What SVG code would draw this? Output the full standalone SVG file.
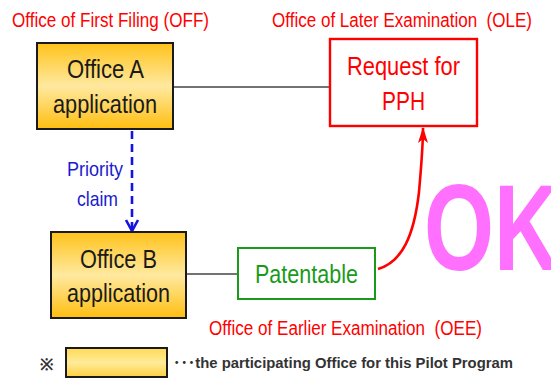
<svg xmlns="http://www.w3.org/2000/svg" width="551" height="379" viewBox="0 0 551 379">
<style>
text{font-family:"Liberation Sans",Arial,sans-serif;}
.ttl{font-size:20px;fill:#ff0000;white-space:pre;}
.box{font-size:26px;fill:#1a1a1a;text-anchor:start;}
.ybox{fill:url(#yg);stroke:#1a1a1a;stroke-width:2;}
.conn{stroke:#444;stroke-width:1.6;fill:none;}
</style>
<defs>
<linearGradient id="yg" x1="0" y1="0" x2="0" y2="1">
<stop offset="0" stop-color="#FFC21A"/>
<stop offset="0.5" stop-color="#FFE9A0"/>
<stop offset="1" stop-color="#FFBE10"/>
</linearGradient>
<linearGradient id="lg" x1="0" y1="0" x2="0" y2="1">
<stop offset="0" stop-color="#FFDA55"/>
<stop offset="0.5" stop-color="#FFEB99"/>
<stop offset="1" stop-color="#FFD040"/>
</linearGradient>
<marker id="ra" viewBox="0 0 16 10" refX="15" refY="5" markerWidth="16" markerHeight="10" markerUnits="userSpaceOnUse" orient="auto">
<path d="M0,0 L16,5 L0,10 L4,5 Z" fill="#ff0000"/>
</marker>
</defs>

<text class="ttl" x="12" y="27" textLength="197" lengthAdjust="spacingAndGlyphs">Office of First Filing (OFF)</text>
<text class="ttl" x="272" y="27" textLength="260" lengthAdjust="spacingAndGlyphs" xml:space="preserve">Office of Later Examination  (OLE)</text>
<text class="ttl" x="209" y="335" textLength="273" lengthAdjust="spacingAndGlyphs" xml:space="preserve">Office of Earlier Examination  (OEE)</text>

<g id="connectors">
<line class="conn" x1="173" y1="87" x2="330" y2="87"/>
<line class="conn" x1="186" y1="274" x2="238" y2="274"/>
<line x1="132" y1="131" x2="132" y2="229" stroke="#1414E0" stroke-width="2.6" stroke-dasharray="8,5"/>
<polyline points="126,220 132,231 138,220" fill="none" stroke="#1414E0" stroke-width="2.6"/>
<path d="M378,269 C402,262 414,236 419,192 C421,168 423,148 423,128" fill="none" stroke="#ff0000" stroke-width="2.6" marker-end="url(#ra)"/>
<text x="67" y="176" font-size="21" fill="#1a1ad0" textLength="56" lengthAdjust="spacingAndGlyphs">Priority</text>
<text x="77" y="206" font-size="21" fill="#1a1ad0" textLength="41" lengthAdjust="spacingAndGlyphs">claim</text>
</g>

<g id="officeA">
<rect class="ybox" x="37" y="43" width="136" height="86"/>
<text class="box" x="67" y="78" textLength="77" lengthAdjust="spacingAndGlyphs">Office A</text>
<text class="box" x="53" y="113" textLength="104" lengthAdjust="spacingAndGlyphs">application</text>
</g>

<g id="request">
<rect x="330" y="39" width="147" height="87" fill="#fff" stroke="#ff0000" stroke-width="2.4"/>
<text x="347" y="75" font-size="26" fill="#ff0000" textLength="113" lengthAdjust="spacingAndGlyphs">Request for</text>
<text x="382" y="110" font-size="26" fill="#ff0000" textLength="43" lengthAdjust="spacingAndGlyphs">PPH</text>
</g>

<g id="officeB">
<rect class="ybox" x="51" y="232" width="135" height="86"/>
<text class="box" x="80" y="268" textLength="77" lengthAdjust="spacingAndGlyphs">Office B</text>
<text class="box" x="67" y="302" textLength="103" lengthAdjust="spacingAndGlyphs">application</text>
</g>

<g id="patentable">
<rect x="238" y="248" width="137" height="51" fill="#fff" stroke="#1a9a1a" stroke-width="2"/>
<text x="255" y="283" font-size="26" fill="#1a9a1a" textLength="103" lengthAdjust="spacingAndGlyphs">Patentable</text>
</g>

<g id="ok">
<text x="424" y="270" font-size="123" font-weight="bold" fill="#FF70FF" textLength="135" lengthAdjust="spacingAndGlyphs">OK</text>
</g>

<g id="legend">
<text x="40" y="370" font-size="16" font-weight="bold" fill="#333" font-family="'Noto Sans CJK JP',sans-serif">※</text>
<rect x="66" y="348" width="101" height="29" fill="url(#lg)" stroke="#1a1a1a" stroke-width="2"/>
<text x="173" y="368" font-size="15" font-weight="bold" fill="#333" textLength="340" lengthAdjust="spacingAndGlyphs" style="font-family:'Liberation Sans','Noto Sans CJK JP',sans-serif">･･･the participating Office for this Pilot Program</text>
</g>
</svg>
